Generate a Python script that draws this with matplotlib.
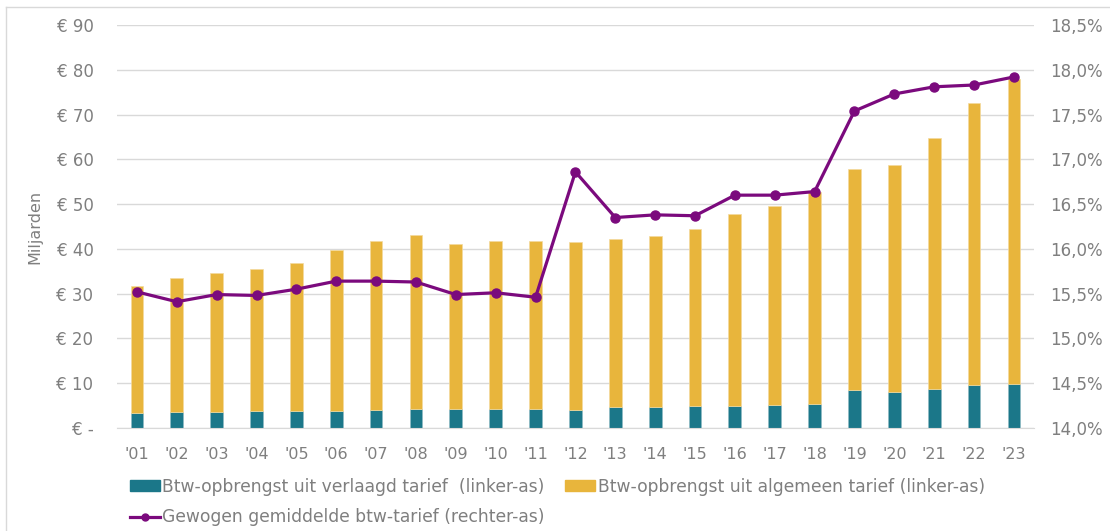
import matplotlib
matplotlib.use("Agg")
import matplotlib.pyplot as plt
from matplotlib.lines import Line2D
from matplotlib.patches import Patch
from matplotlib.ticker import FuncFormatter

years = ["'01", "'02", "'03", "'04", "'05", "'06", "'07", "'08", "'09", "'10", "'11", "'12",
         "'13", "'14", "'15", "'16", "'17", "'18", "'19", "'20", "'21", "'22", "'23"]
totaal = [31.8, 33.4, 34.6, 35.4, 36.8, 39.8, 41.8, 43.1, 41.1, 41.7, 41.8, 41.6,
          42.3, 42.8, 44.5, 47.7, 49.6, 52.6, 57.9, 58.8, 64.7, 72.5, 77.9]
verlaagd = [3.25, 3.5, 3.55, 3.7, 3.7, 3.9, 4.05, 4.15, 4.15, 4.2, 4.35, 3.95,
            4.7, 4.7, 4.95, 4.95, 5.2, 5.45, 8.5, 8.1, 8.6, 9.6, 9.9]
algemeen = [t - v for t, v in zip(totaal, verlaagd)]
tarief = [15.52, 15.41, 15.49, 15.48, 15.55, 15.64, 15.64, 15.63, 15.49, 15.51, 15.46, 16.86,
          16.35, 16.38, 16.37, 16.60, 16.60, 16.64, 17.54, 17.73, 17.81, 17.83, 17.92]

teal = "#1B7789"
yellow = "#E8B53C"
purple = "#7B0A7D"
gray = "#7F7F7F"
grid = "#D9D9D9"

plt.rcParams['font.family'] = ['DejaVu Sans']

fig = plt.figure(figsize=(11.10, 5.31), dpi=100)
ax = fig.add_axes([0.1054, 0.194, 0.826, 0.7589])
ax2 = ax.twinx()

x = list(range(len(years)))
w = 0.32
ax.bar(x, verlaagd, width=w, color=teal, edgecolor="#8FBBC4", linewidth=0.5, zorder=2)
ax.bar(x, algemeen, width=w, bottom=verlaagd, color=yellow, edgecolor="#F3DA9E", linewidth=0.5, zorder=2)

ax2.plot(x, tarief, color=purple, lw=2.3, marker="o", markersize=6.5, zorder=3)

ax.set_xlim(-0.5, len(years) - 0.5)
ax.set_ylim(0, 90)
ax.set_yticks(range(0, 91, 10))
ax.yaxis.set_major_formatter(FuncFormatter(lambda v, p: "€ -" if v == 0 else f"€ {int(v)}"))
ax2.set_ylim(14.0, 18.5)
ax2.set_yticks([14.0 + 0.5 * i for i in range(10)])
ax2.yaxis.set_major_formatter(FuncFormatter(lambda v, p: f"{v:.1f}%".replace(".", ",")))

ax.grid(axis="y", color=grid, lw=1, zorder=0)
ax.set_axisbelow(True)
for a in (ax, ax2):
    for s in a.spines.values():
        s.set_visible(False)
ax.spines["bottom"].set_visible(True)
ax.spines["bottom"].set_color(grid)

ax.set_xticks(x)
ax.set_xticklabels(years)
ax.tick_params(axis="x", length=0, pad=14, labelsize=11.5, labelcolor=gray)
ax.tick_params(axis="y", length=0, pad=17, labelsize=12, labelcolor=gray)
ax2.tick_params(axis="y", length=0, pad=12, labelsize=12, labelcolor=gray)
for lbl in ax.get_yticklabels():
    lbl.set_horizontalalignment("right")

ax.set_ylabel("Miljarden", color=gray, fontsize=11.5)
ax.yaxis.set_label_coords(-0.0815, 0.5)

ax2.set_zorder(ax.zorder + 1)
ax2.patch.set_visible(False)

handles = [Patch(color=teal), Line2D([0], [0], color=purple, lw=2.3, marker="o", markersize=5),
           Patch(color=yellow)]
labels = ["Btw-opbrengst uit verlaagd tarief  (linker-as)",
          "Gewogen gemiddelde btw-tarief (rechter-as)",
          "Btw-opbrengst uit algemeen tarief (linker-as)"]
leg = fig.legend(handles, labels, ncol=2, loc="upper left", bbox_to_anchor=(0.1093, 0.116),
                 frameon=False, fontsize=12.3, labelcolor=gray, handlelength=1.75,
                 handleheight=0.6, handletextpad=0.15, columnspacing=1.2, labelspacing=0.72,
                 borderpad=0)

fig.add_artist(Line2D([6 / 1110, 6 / 1110], [0, 1 - 7 / 531], transform=fig.transFigure,
                      color="#D9D9D9", lw=1))
fig.add_artist(Line2D([6 / 1110, 1], [1 - 7 / 531, 1 - 7 / 531], transform=fig.transFigure,
                      color="#D9D9D9", lw=1))

fig.savefig("out.png", dpi=100)
